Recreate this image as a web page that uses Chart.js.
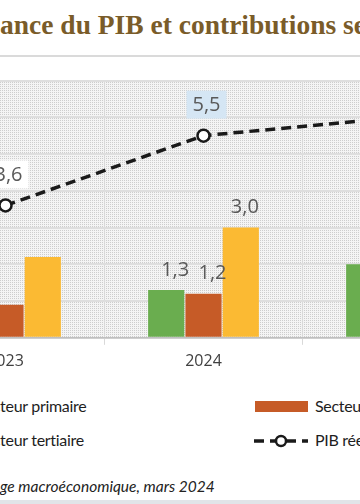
<!DOCTYPE html>
<html>
<head>
<meta charset="utf-8">
<script src="https://cdn.jsdelivr.net/npm/chart.js@4.4.1/dist/chart.umd.min.js"></script>
<style>
  html, body { margin: 0; padding: 0; background: #fff; width: 360px; height: 504px; overflow: hidden; }
  #wrap { position: absolute; left: 0; top: 0; width: 360px; height: 504px; overflow: hidden; background: #fff; }
  #title { position: absolute; top: 8px; white-space: nowrap; font: bold 27.5px "Liberation Serif", serif; line-height: 34px; color: #7a5c29; }
  #sep { position: absolute; left: 0; top: 55px; width: 360px; height: 2px; background: #dadada; }
  #chartBox { position: absolute; left: 0; top: 0; }
  .legTxt { position: absolute; white-space: nowrap; font: 16px Lato, sans-serif; color: #1e1e1e; letter-spacing: -0.3px; line-height: 20px; }
  .legSym { position: absolute; }
  #source { position: absolute; top: 476px; white-space: nowrap; font: italic 15.5px Lato, sans-serif; line-height: 20px; color: #222; }
  #bottom { position: absolute; left: 0; top: 500px; width: 360px; height: 4px; background: #e1e4e8; }
</style>
</head>
<body>
<div id="wrap">
  <div id="title">Croissance du PIB et contributions sectorielles</div>
  <div id="sep"></div>
  <div id="chartBox"><canvas id="myChart"></canvas></div>
  <div id="source">Source : Cadrage macroéconomique, mars 2024</div>
  <div id="bottom"></div>
</div>
<script>
// data
var years = ['2023', '2024', '2025'];
var primaire = [0.5, 1.3, 2.0];
var secondaire = [0.9, 1.2, 1.0];
var tertiaire = [2.2, 3.0, 3.0];
var pibReel = [3.6, 5.5, 6.0];
var yTicks = [0, 1, 2, 3, 4, 5, 6, 7];
var labelledYear = '2024';

var names = ['Secteur primaire', 'Secteur secondaire', 'Secteur tertiaire', 'PIB réel'];
var colors = ['#6aad4f', '#c65b27', '#fbba33', '#1a1a1a'];

function fmt(v) { return v.toFixed(1).replace('.', ','); }

// measure helper for the cropped texts
var mc = document.createElement('canvas').getContext('2d');
function textW(t, font) { mc.font = font; return mc.measureText(t).width; }

// title + source are cut on the left like the picture
document.getElementById('title').style.left = (-textW('Croiss', 'bold 27.5px "Liberation Serif"')) + 'px';
document.getElementById('source').style.left = (-textW('Source : Cadra', 'italic 15.5px Lato')) + 'px';

// dotted plot background
var pat = document.createElement('canvas');
pat.width = 2; pat.height = 2;
var pc = pat.getContext('2d');
pc.fillStyle = '#f4f4f4'; pc.fillRect(0, 0, 2, 2);
pc.fillStyle = '#cdcdcd'; pc.fillRect(0, 0, 1, 1);

var bgPlugin = {
  id: 'bgPlugin',
  beforeDraw: function (chart) {
    var a = chart.chartArea, c = chart.ctx;
    c.save();
    c.fillStyle = c.createPattern(pat, 'repeat');
    c.fillRect(a.left, a.top, a.right - a.left, a.bottom - a.top);
    c.restore();
  }
};

// value labels
var labelPlugin = {
  id: 'labelPlugin',
  afterDatasetsDraw: function (chart) {
    var c = chart.ctx;
    c.save();
    c.font = '20px "Open Sans"';
    c.textAlign = 'center';
    c.textBaseline = 'middle';
    chart.data.datasets.forEach(function (ds, di) {
      var meta = chart.getDatasetMeta(di);
      meta.data.forEach(function (el, i) {
        var v = ds.data[i];
        var x = el.x + ds.labelDx;
        var y;
        if (ds.type === 'line') {
          y = el.y - 31;
          var w = c.measureText(fmt(v)).width + 12;
          c.fillStyle = years[i] === labelledYear ? '#d5e6f4' : '#ffffff';
          c.fillRect(x - w / 2, y - 14, w, 28);
        } else {
          if (years[i] !== labelledYear) return;
          y = el.y - 21;
        }
        c.fillStyle = '#595959';
        c.fillText(fmt(v), x, y + 1);
      });
    });
    c.restore();
  }
};

function config() {
  return {
    type: 'bar',
    data: {
      labels: years,
      datasets: [
        { label: names[0], data: primaire, backgroundColor: colors[0], labelDx: 9, order: 2 },
        { label: names[1], data: secondaire, backgroundColor: colors[1], labelDx: 9, order: 2 },
        { label: names[2], data: tertiaire, backgroundColor: colors[2], labelDx: 4, order: 2 },
        {
          type: 'line', label: names[3], data: pibReel, order: 1, labelDx: 3,
          borderColor: colors[3], borderWidth: 3.5, borderDash: [10, 6],
          pointRadius: 6, pointBorderWidth: 2.5, pointBackgroundColor: '#fff',
          pointBorderColor: colors[3], fill: false, tension: 0
        }
      ]
    },
    options: {
      responsive: false,
      maintainAspectRatio: false,
      animation: false,
      devicePixelRatio: 1,
      layout: { padding: 0 },
      datasets: { bar: { categoryPercentage: 0.565, barPercentage: 0.97 } },
      plugins: { legend: { display: false }, tooltip: { enabled: false } },
      scales: {
        x: {
          offset: true,
          grid: { offset: true, color: '#d9d9d9', lineWidth: 1, tickLength: 7, drawTicks: true },
          border: { color: '#bfbfbf', width: 1.5 },
          ticks: { color: '#404040', font: { family: 'Open Sans', size: 16 }, padding: 7 }
        },
        y: {
          min: yTicks[0], max: yTicks[yTicks.length - 1],
          afterBuildTicks: function (s) { s.ticks = yTicks.map(function (v) { return { value: v }; }); },
          grid: { color: '#dedede', lineWidth: 2, drawTicks: false },
          border: { display: false },
          ticks: { display: false }
        }
      }
    },
    plugins: [bgPlugin, labelPlugin]
  };
}

// first pass to find the axis sizes, then rebuild at the size that puts
// 0..7 on y 80..338 and gives 198px per category with 2023 centred at x=5
var W = 620, H = 300;
var cv = document.getElementById('myChart');
cv.width = W; cv.height = H;
cv.style.width = W + 'px'; cv.style.height = H + 'px';
var chart = new Chart(cv, config());
var ca = chart.chartArea;
W += 594 - (ca.right - ca.left);
H += 258 - (ca.bottom - ca.top);
chart.destroy();
cv.width = W; cv.height = H;
cv.style.width = W + 'px'; cv.style.height = H + 'px';
chart = new Chart(cv, config());
ca = chart.chartArea;
var box = document.getElementById('chartBox');
box.style.left = (-94 - ca.left) + 'px';
box.style.top = (80 - ca.top) + 'px';

// legend, two columns, left one cut by the crop
var wrap = document.getElementById('wrap');
var legFont = '16px Lato';
var leftText = -textW('Sec', legFont) + 1;
var legPos = [
  { x: leftText, y: 407 }, { x: 315, y: 407 },
  { x: leftText, y: 441 }, { x: 315, y: 441 }
];
[0, 1, 2, 3].forEach(function (di, k) {
  var p = legPos[k];
  var t = document.createElement('div');
  t.className = 'legTxt';
  t.textContent = names[di];
  t.style.left = p.x + 'px';
  t.style.top = (p.y - 11) + 'px';
  wrap.appendChild(t);
  var s;
  if (di < 3) {
    s = document.createElement('div');
    s.className = 'legSym';
    s.style.left = (p.x - 60) + 'px';
    s.style.top = (p.y - 6) + 'px';
    s.style.width = '53px';
    s.style.height = '11px';
    s.style.background = colors[di];
  } else {
    s = document.createElementNS('http://www.w3.org/2000/svg', 'svg');
    s.setAttribute('class', 'legSym');
    s.setAttribute('width', '58');
    s.setAttribute('height', '16');
    s.style.left = (p.x - 63) + 'px';
    s.style.top = (p.y - 8) + 'px';
    s.innerHTML = '<line x1="2" y1="8" x2="56" y2="8" stroke="' + colors[3] + '" stroke-width="3.5" stroke-dasharray="10,6"/>' +
      '<circle cx="29" cy="8" r="5" fill="#fff" stroke="' + colors[3] + '" stroke-width="2.5"/>';
  }
  wrap.appendChild(s);
});
</script>
</body>
</html>
